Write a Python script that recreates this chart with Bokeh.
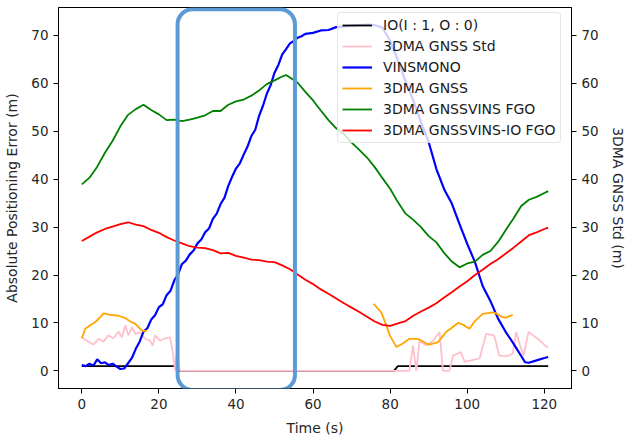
from bokeh.plotting import figure
from bokeh.models import Range1d, LinearAxis, FixedTicker, BoxAnnotation
from bokeh.embed import file_html
from bokeh.resources import INLINE

nan = float("nan")

# Inlier/outlier flag (1 = inlier, 0 = outlier)
io_t = [0, 24, 25, 81, 82, 121]
io_v = [1, 1, 0, 0, 1, 1]

# 3DMA GNSS standard deviation (right axis)
std_t = [0, 1.3, 3, 4.4, 5.6, 6.9, 8.2, 9.5, 10.4, 11.3, 12.1, 13, 13.9, 15.1, 16.4,
         17.7, 18.4, 19, 20.3, 21.6, 22.9, 23.6, 24.2, 24.6, 25.5, 81.2, 85.0, 85.9,
         86.8, 87.6, 89.4, 91.1, 92.8, 93.7, 95.4, 96.3, 98.4, 99.3, 101.0, 103.2,
         104.9, 107.0, 108.3, 110.5, 111.8, 112.7, 113.7, 114.6, 115.9, 118.3, 120.9]
std_v = [7.0, 6.3, 5.5, 6.7, 6.1, 7.4, 6.8, 8.2, 7.0, 9.5, 7.4, 9.1, 7.7, 8.1, 6.7,
         6.3, 5.3, 7.4, 6.3, 6.8, 7.0, 3.9, 0.1, 3.6, 0.0, 0.0, 0.0, 5.3,
         0.0, 6.3, 5.3, 6.3, 8.1, 0.0, 0.0, 3.2, 3.9, 1.9, 2.2, 2.6,
         7.7, 7.4, 3.2, 3.1, 3.6, 8.1, 5.3, 3.2, 8.1, 6.7, 4.8]

# VINS-Mono positioning error
vins_t = [0, 1, 2, 3, 4, 5, 6, 7, 8, 9, 10, 11, 12, 13, 14, 15, 16, 17, 18, 19,
          20, 21, 22, 23, 24, 25, 26, 27, 28, 29, 30, 31, 32, 33, 34, 35, 36, 37, 38, 39,
          40, 41, 42, 43, 44, 45, 46, 47, 48, 49, 50, 51, 52, 53, 54, 55, 56, 57, 58,
          60, 62, 64, 66, 68, 70, 72, 74, 76, 78, 80, 82, 84, 86, 88, 90, 92, 94, 96,
          98, 100, 102, 104, 106, 108, 110, 112, 114, 115, 116, 118, 120, 121]
vins_v = [1.2, 1.0, 1.5, 1.1, 2.4, 1.6, 1.8, 1.2, 1.5, 0.9, 0.4, 0.5, 1.6, 2.7, 4.6,
          6.1, 8.2, 8.9, 10.7, 11.6, 13.3, 13.9, 15.8, 16.7, 18.9, 20.2, 22.3, 23.0,
          24.3, 25.1, 26.6, 27.4, 28.9, 29.7, 31.7, 32.8, 34.8, 36.1, 38.6, 40.5, 42.2,
          43.3, 45.1, 46.8, 49.0, 50.3, 53.2, 55.3, 57.8, 59.6, 62.2, 63.8, 66.0, 67.1,
          68.3, 68.8, 69.5, 69.8, 70.3,
          70.5, 71.0, 71.1, 71.7, 71.8, 72.0, 72.1, 72.2, 72.1, 71.6, 68.8, 64.8, 60.4,
          56.4, 51.9, 47.7, 42.1, 37.9, 34.9, 30.6, 26.5, 22.7, 17.7, 14.6, 10.9, 8.1,
          5.7, 3.1, 1.8, 1.7, 2.2, 2.7, 2.9]

# 3DMA GNSS positioning error (gap where no solution is available)
gnss_t = [0, 0.9, 2.2, 3.5, 4.8, 5.6, 7.4, 9.5, 11.3, 12.6, 13.9, 15.1, 15.8, 16.9,
          nan,
          75.7, 77.7, 79.0, 79.9, 81.6, 83.3, 85.0, 87.2, 89.4, 90.2, 92.4, 94.5, 96.0,
          97.6, 99.0, 100.6, 102.0, 104.0, 106.6, 107.5, 109.2, 110.0, 111.8]
gnss_v = [6.8, 8.8, 9.5, 10.2, 11.2, 12.0, 11.7, 11.5, 11.0, 10.3, 9.8, 8.8, 8.3, 8.4,
          nan,
          14.0, 12.2, 9.5, 7.4, 5.0, 5.7, 6.7, 6.7, 5.7, 5.5, 6.0, 8.1, 9.0,
          10.0, 9.6, 8.8, 10.4, 11.9, 12.2, 12.0, 11.2, 11.1, 11.7]

# 3DMA GNSS/VINS factor graph optimisation
fgo_t = [0, 2, 4, 6, 8, 10, 12, 14, 16, 18, 20, 22, 24, 26, 28, 30, 32, 34, 36, 38,
         40, 42, 44, 46, 48, 50, 52, 53, 54, 56, 58, 60, 62, 64, 66, 68, 70, 72, 74, 76,
         78, 80, 82, 84, 86, 88, 90, 92, 94, 96, 98, 100, 102, 104, 106, 108, 110, 112,
         114, 116, 118, 120, 121]
fgo_v = [38.9, 40.3, 42.6, 45.5, 48.0, 51.0, 53.4, 54.6, 55.5, 54.4, 53.5, 52.3, 52.4,
         52.1, 52.4, 52.8, 53.3, 54.2, 54.2, 55.5, 56.2, 56.6, 57.4, 58.5, 59.8, 60.6,
         61.4, 61.7, 61.2, 60.1, 58.2, 56.4, 54.3, 52.3, 50.6, 49.4, 47.6, 46.1, 44.5,
         42.5, 40.2, 38.0, 35.2, 32.8, 31.5, 30.0, 28.1, 26.8, 24.6, 22.8, 21.6, 22.4,
         22.8, 24.2, 25.0, 26.9, 29.4, 31.8, 34.4, 35.7, 36.3, 37.1, 37.5]

# 3DMA GNSS/VINS factor graph optimisation with inlier/outlier handling
iofgo_t = [0, 2, 4, 6, 8, 10, 12, 14, 16, 18, 20, 22, 24, 26, 28, 30, 32, 34, 36, 38,
           40, 42, 44, 46, 48, 50, 52, 54, 56, 58, 60, 62, 64, 66, 68, 70, 72, 74, 76,
           78, 80, 82, 84, 86, 88, 90, 92, 94, 96, 98, 100, 102, 104, 106, 108, 110, 112,
           114, 116, 118, 120, 121]
iofgo_v = [27.1, 28.0, 28.9, 29.6, 30.1, 30.6, 31.0, 30.5, 30.2, 29.4, 28.8, 27.9, 27.2,
           26.6, 26.0, 25.7, 25.6, 25.2, 24.5, 24.6, 24.0, 23.6, 23.2, 23.1, 22.8, 22.7,
           22.0, 21.2, 20.1, 19.0, 18.1, 17.0, 16.1, 15.1, 14.1, 13.2, 12.3, 11.3, 10.3,
           9.6, 9.4, 9.9, 10.4, 11.5, 12.4, 13.2, 14.1, 15.3, 16.4, 17.6, 18.7, 20.0,
           21.1, 22.3, 23.3, 24.5, 25.7, 27.0, 28.3, 28.9, 29.6, 29.9]

x_ticks = [0, 20, 40, 60, 80, 100, 120]
y_ticks = [0, 10, 20, 30, 40, 50, 60, 70]

FONT = "DejaVu Sans"

p = figure(width=628, height=438, output_backend="svg", toolbar_location=None,
           x_range=Range1d(-6.05, 127.05), y_range=Range1d(-3.67, 75.79),
           min_border_left=58, min_border_right=55, min_border_top=7,
           min_border_bottom=48, background_fill_color="white",
           border_fill_color="white")
p.xgrid.visible = False
p.ygrid.visible = False
p.outline_line_color = "black"
p.outline_line_width = 1

p.extra_y_ranges = {"std": Range1d(-3.67, 75.79)}
right_axis = LinearAxis(y_range_name="std", axis_label="3DMA GNSS Std (m)")
p.add_layout(right_axis, "right")

p.xaxis.axis_label = "Time (s)"
p.yaxis[0].axis_label = "Absolute Positioning Error (m)"
p.xaxis.ticker = FixedTicker(ticks=x_ticks)
for ax in p.yaxis:
    ax.ticker = FixedTicker(ticks=y_ticks)

for ax in list(p.xaxis) + list(p.yaxis):
    ax.axis_line_color = "black"
    ax.major_tick_line_color = "black"
    ax.major_tick_out = 5
    ax.major_tick_in = 0
    ax.minor_tick_out = 0
    ax.minor_tick_in = 0
    ax.major_label_text_font = FONT
    ax.major_label_text_font_size = "13.5px"
    ax.major_label_text_color = "#262626"
    ax.axis_label_text_font = FONT
    ax.axis_label_text_font_size = "14px"
    ax.axis_label_text_font_style = "normal"
    ax.axis_label_text_color = "#262626"
    ax.major_label_standoff = 5
    ax.axis_label_standoff = 8

p.line(io_t, io_v, color="black", line_width=1.8, legend_label="IO(I : 1, O : 0)")
p.line(std_t, std_v, color="pink", line_width=1.8, legend_label="3DMA GNSS Std",
       y_range_name="std")
p.line(vins_t, vins_v, color="blue", line_width=2.2, legend_label="VINSMONO")
p.line(gnss_t, gnss_v, color="orange", line_width=1.8, legend_label="3DMA GNSS")
p.line(fgo_t, fgo_v, color="green", line_width=1.8, legend_label="3DMA GNSSVINS FGO")
p.line(iofgo_t, iofgo_v, color="red", line_width=1.8,
       legend_label="3DMA GNSSVINS-IO FGO")

# Highlighted interval
p.add_layout(BoxAnnotation(left=24.85, right=55.3, top=75.4, bottom=-4.0,
                           fill_alpha=0, line_color="#5B9BD5", line_alpha=1.0,
                           line_width=4, border_radius=15))

lg = p.legend[0]
lg.location = (279, 245)
lg.label_text_font = FONT
lg.label_text_font_size = "14px"
lg.label_text_color = "#1a1a1a"
lg.glyph_width = 30
lg.glyph_height = 16
lg.label_height = 16
lg.label_standoff = 11
lg.spacing = 5
lg.padding = 4
lg.margin = 0
lg.border_line_color = "#cccccc"
lg.border_line_width = 1
lg.border_radius = 4
lg.background_fill_color = "white"
lg.background_fill_alpha = 0.8

open("out.html", "w").write(file_html(p, INLINE))
